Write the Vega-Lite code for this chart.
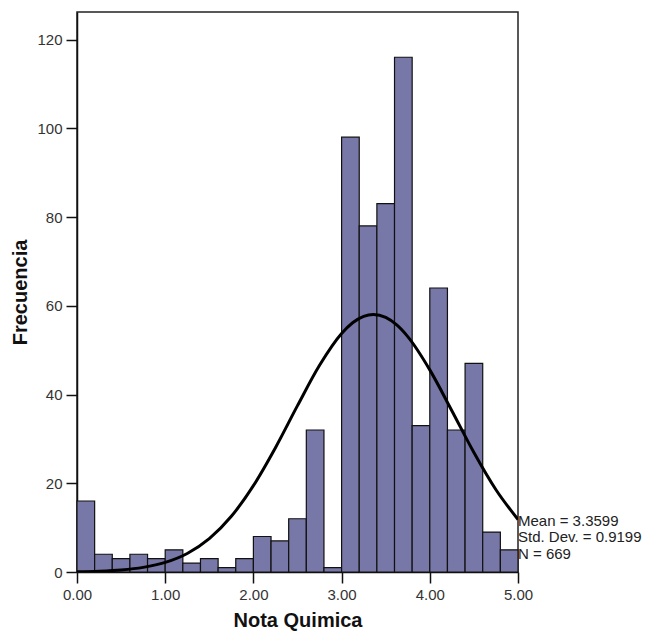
{
  "$schema": "https://vega.github.io/schema/vega-lite/v6.json",
  "width": 441,
  "height": 560,
  "autosize": {"type": "none"},
  "padding": {"left": 77, "top": 12, "right": 136, "bottom": 62},
  "background": "white",
  "config": {
    "font": "Liberation Sans",
    "view": {"stroke": "#222", "strokeWidth": 1.5},
    "axis": {"grid": false, "labelFlush": false, "domainColor": "#111", "domainWidth": 1.5, "tickColor": "#111", "tickWidth": 1.5, "tickSize": 11, "labelFontSize": 15, "labelColor": "#333", "labelFont": "Liberation Sans", "titleFont": "Liberation Sans", "titleFontSize": 20, "titleFontWeight": "bold", "titleColor": "#111"}
  },
  "datasets": {
    "bars": [
      {"lo": 0.0, "hi": 0.2, "count": 16},
      {"lo": 0.2, "hi": 0.4, "count": 4},
      {"lo": 0.4, "hi": 0.6, "count": 3},
      {"lo": 0.6, "hi": 0.8, "count": 4},
      {"lo": 0.8, "hi": 1.0, "count": 3},
      {"lo": 1.0, "hi": 1.2, "count": 5},
      {"lo": 1.2, "hi": 1.4, "count": 2},
      {"lo": 1.4, "hi": 1.6, "count": 3},
      {"lo": 1.6, "hi": 1.8, "count": 1},
      {"lo": 1.8, "hi": 2.0, "count": 3},
      {"lo": 2.0, "hi": 2.2, "count": 8},
      {"lo": 2.2, "hi": 2.4, "count": 7},
      {"lo": 2.4, "hi": 2.6, "count": 12},
      {"lo": 2.6, "hi": 2.8, "count": 32},
      {"lo": 2.8, "hi": 3.0, "count": 1},
      {"lo": 3.0, "hi": 3.2, "count": 98},
      {"lo": 3.2, "hi": 3.4, "count": 78},
      {"lo": 3.4, "hi": 3.6, "count": 83},
      {"lo": 3.6, "hi": 3.8, "count": 116},
      {"lo": 3.8, "hi": 4.0, "count": 33},
      {"lo": 4.0, "hi": 4.2, "count": 64},
      {"lo": 4.2, "hi": 4.4, "count": 32},
      {"lo": 4.4, "hi": 4.6, "count": 47},
      {"lo": 4.6, "hi": 4.8, "count": 9},
      {"lo": 4.8, "hi": 5.0, "count": 5}
    ],
    "curve": [
      {"x": 0.0, "y": 0.07},
      {"x": 0.25, "y": 0.19},
      {"x": 0.5, "y": 0.46},
      {"x": 0.75, "y": 1.04},
      {"x": 1.0, "y": 2.16},
      {"x": 1.25, "y": 4.18},
      {"x": 1.5, "y": 7.51},
      {"x": 1.75, "y": 12.55},
      {"x": 2.0, "y": 19.46},
      {"x": 2.25, "y": 28.02},
      {"x": 2.5, "y": 37.49},
      {"x": 2.75, "y": 46.58},
      {"x": 3.0, "y": 53.75},
      {"x": 3.125, "y": 56.17},
      {"x": 3.25, "y": 57.62},
      {"x": 3.36, "y": 58.03},
      {"x": 3.5, "y": 57.36},
      {"x": 3.625, "y": 55.67},
      {"x": 3.75, "y": 53.04},
      {"x": 4.0, "y": 45.55},
      {"x": 4.25, "y": 36.34},
      {"x": 4.5, "y": 26.92},
      {"x": 4.75, "y": 18.53},
      {"x": 5.0, "y": 11.84}
    ],
    "stats": [
      {"x": 5.0, "y": 11.4, "label": "Mean = 3.3599"},
      {"x": 5.0, "y": 7.8, "label": "Std. Dev. = 0.9199"},
      {"x": 5.0, "y": 4.0, "label": "N = 669"}
    ]
  },
  "layer": [
    {
      "data": {"name": "bars"},
      "mark": {"type": "rect", "fill": "#7878a8", "stroke": "#111", "strokeWidth": 1.2},
      "encoding": {
        "x": {"field": "lo", "type": "quantitative", "scale": {"domain": [0, 5], "nice": false}, "axis": {"values": [0, 1, 2, 3, 4, 5], "format": ".2f", "title": "Nota Quimica", "titlePadding": 8, "labelPadding": 4}},
        "x2": {"field": "hi"},
        "y": {"field": "count", "type": "quantitative", "scale": {"domain": [0, 126.2], "nice": false}, "axis": {"values": [0, 20, 40, 60, 80, 100, 120], "title": "Frecuencia", "titlePadding": 6, "labelPadding": 4}},
        "y2": {"datum": 0}
      }
    },
    {
      "data": {"name": "curve"},
      "mark": {"type": "line", "color": "#000", "strokeWidth": 3, "interpolate": "monotone", "clip": true},
      "encoding": {
        "x": {"field": "x", "type": "quantitative"},
        "y": {"field": "y", "type": "quantitative"}
      }
    },
    {
      "data": {"name": "stats"},
      "mark": {"type": "text", "align": "left", "baseline": "middle", "fontSize": 15, "color": "#222", "dx": 0},
      "encoding": {
        "x": {"field": "x", "type": "quantitative"},
        "y": {"field": "y", "type": "quantitative"},
        "text": {"field": "label"}
      }
    }
  ]
}
